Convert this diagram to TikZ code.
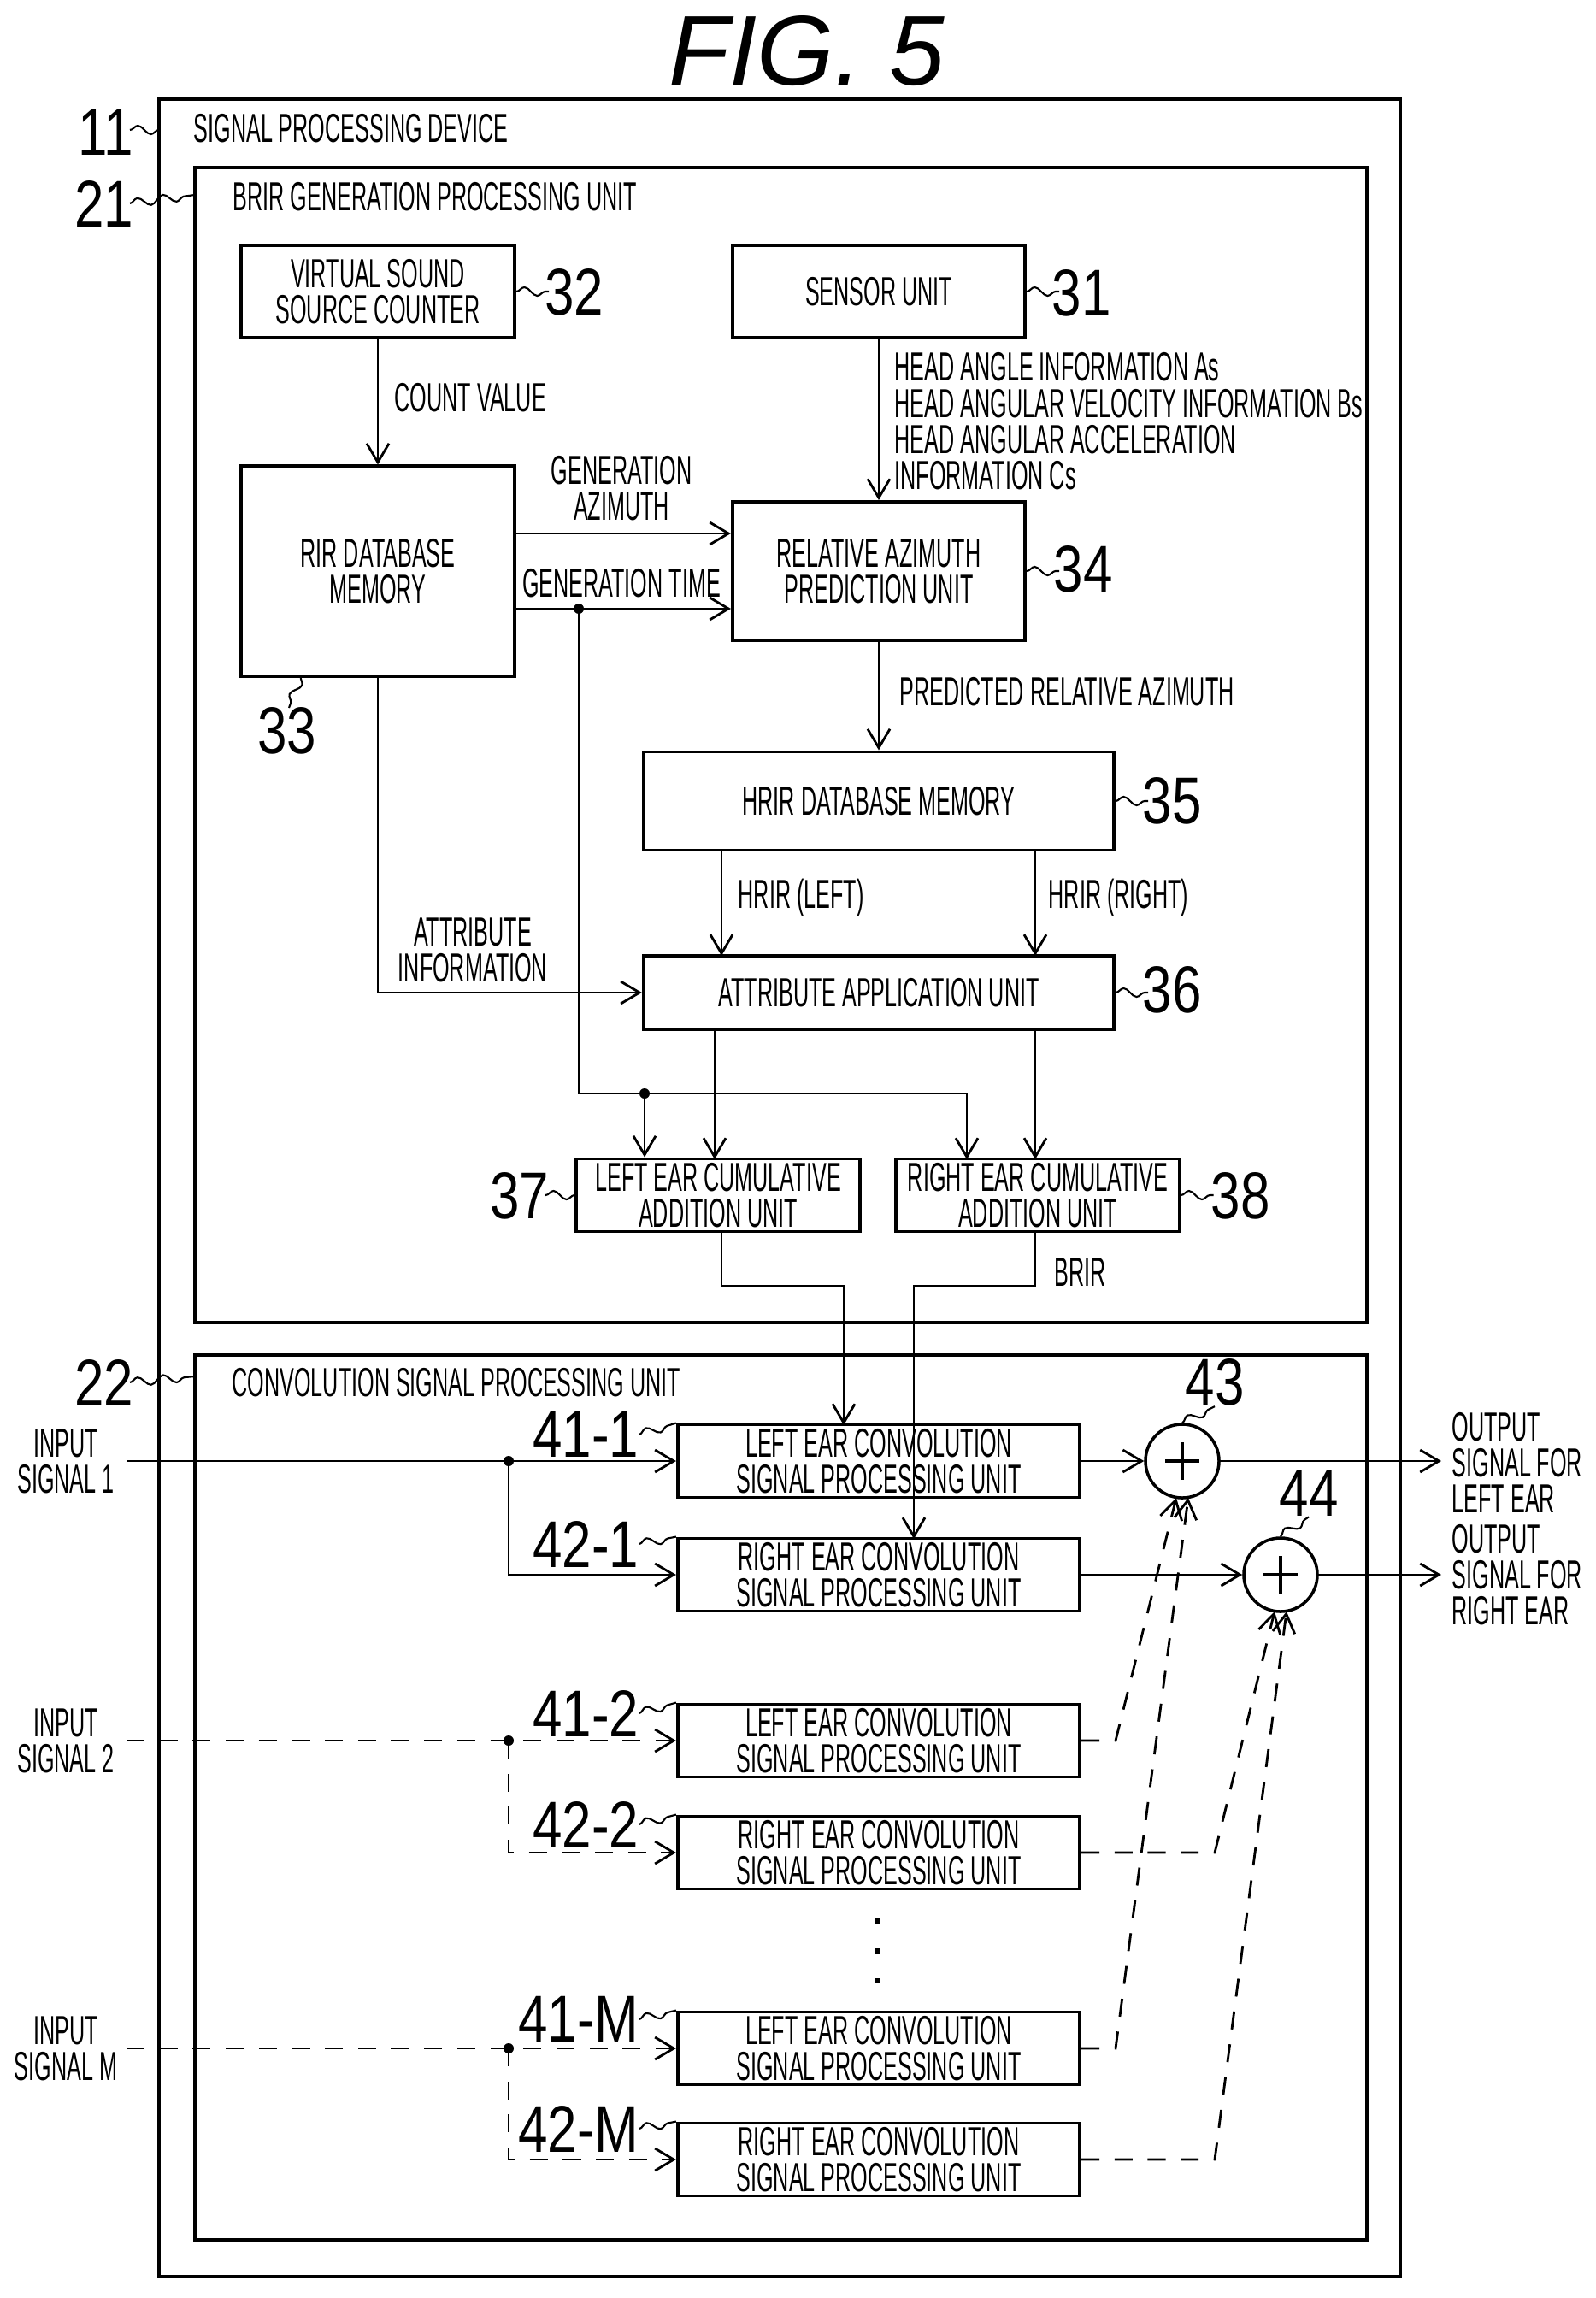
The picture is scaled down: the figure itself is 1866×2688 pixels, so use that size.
\documentclass[tikz,border=0pt]{standalone}
\usepackage{fontspec}
\setmainfont{Liberation Sans}[FakeStretch=0.53]
\newfontfamily\numfont{Liberation Sans}[FakeStretch=0.8]
\newfontfamily\titlefont{Liberation Sans}
\usetikzlibrary{arrows.meta,decorations.pathmorphing}
\tikzset{
  unit/.style={draw, line width=1.1pt, align=center, inner sep=0pt,
    font=\fontsize{13.5}{12}\selectfont},
  conv/.style={unit, minimum width=4.7cm, minimum height=0.85cm},
  txt/.style={align=center, inner sep=0pt, font=\fontsize{13.5}{12}\selectfont},
  num/.style={inner sep=0pt, font=\numfont\fontsize{22}{22}\selectfont},
  flow/.style={line width=0.8pt, -{Straight Barb[length=2.2mm,width=2.6mm]}},
  dflow/.style={flow, dashed, dash pattern=on 6pt off 5pt},
  squig/.style={line width=0.6pt, decorate,
    decoration={snake, amplitude=0.5mm, segment length=3mm}},
  sum/.style={draw, circle, line width=1pt, minimum size=0.86cm, inner sep=0pt}
}
\begin{document}
\begin{tikzpicture}[x=0.01cm, y=-0.01cm]
  \useasboundingbox (0,0) rectangle (1866,2688);
  \node[font=\titlefont\itshape\fontsize{33}{33}\selectfont] (title) at (944,60) {FIG. 5};

  % device and units
  \draw[line width=1pt] (186,116) rectangle (1638,2663);
  \draw[line width=1.4pt] (228,196) rectangle (1599,1547);
  \draw[line width=1.4pt] (228,1585) rectangle (1599,2620);
  \node[txt, anchor=west] (dev) at (226,150) {SIGNAL PROCESSING DEVICE};
  \node[txt, anchor=west] (brirgen) at (272,230) {BRIR GENERATION PROCESSING UNIT};
  \node[txt, anchor=west] (convsig) at (271,1617) {CONVOLUTION SIGNAL PROCESSING UNIT};
  \node[num] (n11) at (124,155) {11};
  \node[num] (n21) at (122,238) {21};
  \node[num] (n22) at (122,1617) {22};
  \draw[squig] (152,152) -- (186,152);
  \draw[squig] (152,238) -- (228,228);
  \draw[squig] (152,1617) -- (228,1610);

  % BRIR generation blocks
  \node[unit, minimum width=3.2cm, minimum height=1.08cm] (vsc) at (442,341) {VIRTUAL SOUND\\SOURCE COUNTER};
  \node[unit, minimum width=3.42cm, minimum height=1.08cm] (sens) at (1028,341) {SENSOR UNIT};
  \node[unit, minimum width=3.2cm, minimum height=2.45cm] (rir) at (442,668) {RIR DATABASE\\MEMORY};
  \node[unit, minimum width=3.42cm, minimum height=1.62cm] (rel) at (1028,668) {RELATIVE AZIMUTH\\PREDICTION UNIT};
  \node[unit, minimum width=5.5cm, minimum height=1.15cm] (hrir) at (1028,937) {HRIR DATABASE MEMORY};
  \node[unit, minimum width=5.5cm, minimum height=0.86cm] (attr) at (1028,1161) {ATTRIBUTE APPLICATION UNIT};
  \node[unit, minimum width=3.32cm, minimum height=0.85cm] (lcum) at (840,1398) {LEFT EAR CUMULATIVE\\ADDITION UNIT};
  \node[unit, minimum width=3.31cm, minimum height=0.85cm] (rcum) at (1214,1398) {RIGHT EAR CUMULATIVE\\ADDITION UNIT};

  \node[num] (n32) at (672,342) {32};
  \node[num] (n31) at (1265,343) {31};
  \node[num] (n34) at (1267,666) {34};
  \node[num] (n35) at (1371,937) {35};
  \node[num] (n36) at (1371,1158) {36};
  \node[num] (n37) at (608,1399) {37};
  \node[num] (n38) at (1451,1399) {38};
  \node[num] (n33) at (336,855) {33};
  \draw[squig] (vsc.east) -- ++(38,0);
  \draw[squig] (sens.east) -- ++(38,0);
  \draw[squig] (rel.east) -- ++(38,0);
  \draw[squig] (hrir.east) -- ++(38,0);
  \draw[squig] (attr.east) -- ++(38,0);
  \draw[squig] (lcum.west) -- ++(-34,0);
  \draw[squig] (rcum.east) -- ++(38,0);
  \draw[squig] (352,791) -- (338,828);

  % BRIR generation connections
  \draw[flow] (vsc) -- (rir);
  \node[txt, anchor=west] (cnt) at (461,465) {COUNT VALUE};
  \draw[flow] (sens) -- (rel);
  \node[txt, align=left, anchor=north west] (head) at (1046,412) {HEAD ANGLE INFORMATION As\\HEAD ANGULAR VELOCITY INFORMATION Bs\\HEAD ANGULAR ACCELERATION\\INFORMATION Cs};
  \draw[flow] (rir.east |- 0,624) -- (rel.west |- 0,624);
  \node[txt] (genaz) at (727,571) {GENERATION\\AZIMUTH};
  \draw[flow] (rir.east |- 0,712) -- (rel.west |- 0,712);
  \node[txt] (gentime) at (727,682) {GENERATION TIME};
  \draw[flow] (rel) -- (hrir);
  \node[txt, anchor=west] (pred) at (1052,809) {PREDICTED RELATIVE AZIMUTH};
  \draw[flow] (844,995) -- (844,1118);
  \node[txt, anchor=west] (hl) at (863,1050) {HRIR (LEFT)};
  \draw[flow] (1211,995) -- (1211,1118);
  \node[txt, anchor=west] (hr) at (1226,1050) {HRIR (RIGHT)};
  \draw[flow] (rir.south) |- (attr.west);
  \node[txt] (attinfo) at (553,1111) {ATTRIBUTE\\INFORMATION};
  \coordinate (tdot) at (677,712);
  \coordinate (ldot) at (754,1279);
  \fill (tdot) circle (6);
  \fill (ldot) circle (6);
  \draw[line width=0.8pt] (tdot) |- (ldot);
  \draw[flow] (ldot) -| (1131,1356);
  \draw[flow] (ldot) -- (ldot |- lcum.north);
  \draw[flow] (836,1204) -- (836,1356);
  \draw[flow] (1211,1204) -- (1211,1356);

  % convolution blocks
  \node[conv] (l1) at (1028,1709) {LEFT EAR CONVOLUTION\\SIGNAL PROCESSING UNIT};
  \node[conv] (r1) at (1028,1842) {RIGHT EAR CONVOLUTION\\SIGNAL PROCESSING UNIT};
  \node[conv] (l2) at (1028,2036) {LEFT EAR CONVOLUTION\\SIGNAL PROCESSING UNIT};
  \node[conv] (r2) at (1028,2167) {RIGHT EAR CONVOLUTION\\SIGNAL PROCESSING UNIT};
  \node[conv] (lm) at (1028,2396) {LEFT EAR CONVOLUTION\\SIGNAL PROCESSING UNIT};
  \node[conv] (rm) at (1028,2526) {RIGHT EAR CONVOLUTION\\SIGNAL PROCESSING UNIT};
  \foreach \b/\t/\y in {l1/41-1/1678, r1/42-1/1806, l2/41-2/2004, r2/42-2/2134, lm/41-M/2362, rm/42-M/2490}{
    \node[num, anchor=east] (n\b) at (748,\y) {\t};
    \draw[squig] (n\b.east) -- (\b.north west);
  }
  \node[sum] (addl) at (1383,1709) {};
  \node[sum] (addr) at (1498,1842) {};
  \draw[line width=0.9pt] (addl.center) +(-20,0) -- +(20,0) +(0,-22) -- +(0,22);
  \draw[line width=0.9pt] (addr.center) +(-20,0) -- +(20,0) +(0,-22) -- +(0,22);
  \node[num] (n43) at (1421,1617) {43};
  \node[num] (n44) at (1531,1747) {44};
  \draw[squig] (addl.north) -- (n43.south);
  \draw[squig] (addr.north) -- (n44.south);

  % BRIR to convolution
  \draw[flow] (lcum.south -| 844,0) |- (987,1504) -- (987,1667);
  \draw[flow] (rcum.south -| 1211,0) |- (1069,1504) -- (1069,1800);
  \node[txt, anchor=west] (brir) at (1233,1488) {BRIR};

  % inputs
  \node[txt] (in1) at (77,1709) {INPUT\\SIGNAL 1};
  \node[txt] (in2) at (77,2036) {INPUT\\SIGNAL 2};
  \node[txt] (inm) at (77,2396) {INPUT\\SIGNAL M};
  \draw[flow] (148,1709) -- (l1.west);
  \fill (595,1709) circle (6);
  \draw[flow] (595,1709) |- (r1.west);
  \draw[dflow] (148,2036) -- (l2.west);
  \fill (595,2036) circle (6);
  \draw[dflow] (595,2036) |- (r2.west);
  \draw[dflow] (148,2396) -- (lm.west);
  \fill (595,2396) circle (6);
  \draw[dflow] (595,2396) |- (rm.west);
  \draw[line width=1.5pt, dash pattern=on 2pt off 8pt] (1027,2244) -- (1027,2320);

  % summing
  \draw[flow] (l1.east) -- (addl.west);
  \draw[flow] (r1.east) -- (addr.west);
  \draw[dflow] (l2.east) -- (1305,2036) -- (1376,1752);
  \draw[dflow] (lm.east) -- (1305,2396) -- (1390,1752);
  \draw[dflow] (r2.east) -- (1421,2167) -- (1491,1885);
  \draw[dflow] (rm.east) -- (1421,2526) -- (1505,1885);
  \draw[flow] (addl.east) -- (1686,1709);
  \draw[flow] (addr.east) -- (1686,1842);
  \node[txt, align=left, anchor=west] (outl) at (1698,1711) {OUTPUT\\SIGNAL FOR\\LEFT EAR};
  \node[txt, align=left, anchor=west] (outr) at (1698,1842) {OUTPUT\\SIGNAL FOR\\RIGHT EAR};
\end{tikzpicture}
\end{document}
